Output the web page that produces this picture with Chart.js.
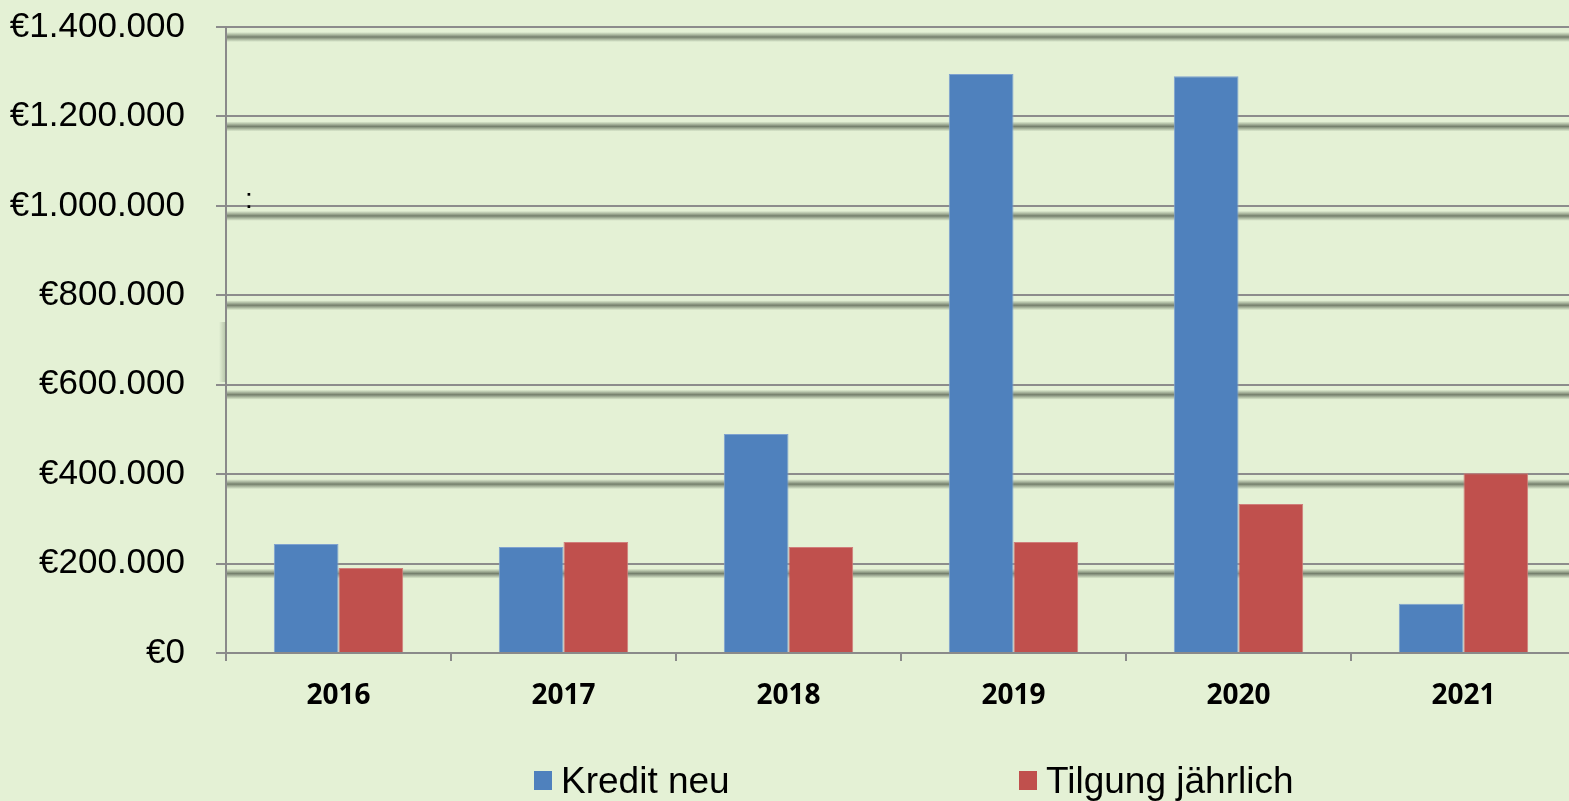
<!DOCTYPE html>
<html>
<head>
<meta charset="utf-8">
<script src="https://cdn.jsdelivr.net/npm/chart.js@4.4.0/dist/chart.umd.min.js"></script>
<style>
  html, body { margin:0; padding:0; background:#E4F1D5; overflow:hidden; }
  #wrap { position:absolute; left:0; top:0; width:1580px; height:801px; }
</style>
</head>
<body>
<div id="wrap"><canvas id="c"></canvas></div>
<script>
const categories = ['2016', '2017', '2018', '2019', '2020', '2021'];
const kreditNeu = [244000, 237000, 490000, 1295000, 1290000, 110000];
const tilgungJaehrlich = [190000, 248000, 237000, 248000, 333000, 402000];
const seriesNames = ['Kredit neu', 'Tilgung jährlich'];
const yTickValues = [0, 200000, 400000, 600000, 800000, 1000000, 1200000, 1400000];
const yTickLabels = ['€0', '€200.000', '€400.000', '€600.000', '€800.000', '€1.000.000', '€1.200.000', '€1.400.000'];

const BLUE = '#4F81BD', RED = '#C0504D';

const shadowPlugin = {
  id: 'gridShadow',
  beforeDatasetsDraw(chart) {
    const ctx = chart.ctx, y = chart.scales.y, area = chart.chartArea;
    ctx.save();
    yTickValues.forEach(v => {
      const py = y.getPixelForValue(v);
      if (v === 0) return;
      const top = py + 5, h = 10;
      const g = ctx.createLinearGradient(0, top, 0, top + h);
      g.addColorStop(0, 'rgba(120,135,112,0)');
      g.addColorStop(0.5, 'rgba(110,120,102,0.95)');
      g.addColorStop(1, 'rgba(120,135,112,0)');
      ctx.fillStyle = g;
      ctx.fillRect(area.left + 1, top, chart.width - area.left, h);
    });
    const gx = ctx.createLinearGradient(area.left - 7, 0, area.left, 0);
    gx.addColorStop(0, 'rgba(120,135,112,0)');
    gx.addColorStop(1, 'rgba(120,135,112,0.45)');
    ctx.fillStyle = gx;
    ctx.fillRect(area.left - 7, 322, 7, 60);
    ctx.fillStyle = '#000';
    ctx.font = '28px "Liberation Sans", Arial, sans-serif';
    ctx.textAlign = 'left';
    ctx.textBaseline = 'alphabetic';
    ctx.fillText(':', 245, 208);
    ctx.restore();
  }
};

const legendPlugin = {
  id: 'customLegend',
  afterDraw(chart) {
    const ctx = chart.ctx;
    const items = [
      { x: 534, color: BLUE, text: seriesNames[0] },
      { x: 1019, color: RED, text: seriesNames[1] }
    ];
    ctx.save();
    ctx.font = '37px "Liberation Sans", Arial, sans-serif';
    ctx.textBaseline = 'alphabetic';
    ctx.textAlign = 'left';
    items.forEach(it => {
      ctx.fillStyle = it.color;
      ctx.fillRect(it.x, 771, 18, 19);
      ctx.fillStyle = '#000';
      ctx.fillText(it.text, it.x + 27, 793);
    });
    ctx.restore();
  }
};

new Chart(document.getElementById('c'), {
  type: 'bar',
  data: {
    labels: categories,
    datasets: [
      { label: seriesNames[0], data: kreditNeu, backgroundColor: BLUE, borderColor: '#7FA2CF', borderWidth: 1,
        categoryPercentage: 0.575, barPercentage: 1.0 },
      { label: seriesNames[1], data: tilgungJaehrlich, backgroundColor: RED, borderColor: '#D07E7B', borderWidth: 1,
        categoryPercentage: 0.575, barPercentage: 1.0 }
    ]
  },
  options: {
    responsive: true,
    maintainAspectRatio: false,
    animation: false,
    layout: { padding: { left: 0, right: 4, top: 27, bottom: 0 } },
    plugins: { legend: { display: false }, tooltip: { enabled: false } },
    scales: {
      x: {
        offset: true,
        afterFit(s) { s.height = 148; s.paddingLeft = 0; s.paddingRight = 0; },
        grid: { display: true, drawOnChartArea: false, tickLength: 8, color: '#8a8a8a', lineWidth: 2, offset: true },
        border: { display: true, color: '#8a8a8a', width: 2 },
        ticks: { color: '#000', padding: 18, font: { family: '"Open Sans", Lato, sans-serif', size: 28, weight: 'bold' } }
      },
      y: {
        min: 0, max: 1400000,
        afterFit(s) { s.width = 226; s.paddingTop = 0; s.paddingBottom = 0; },
        afterBuildTicks(s) { s.ticks = yTickValues.map(v => ({ value: v })); },
        grid: { color: '#8c8c8c', lineWidth: 2, tickLength: 10 },
        border: { display: true, color: '#8a8a8a', width: 2 },
        ticks: {
          color: '#000', padding: 31,
          font: { family: '"Liberation Sans", Arial, sans-serif', size: 35 },
          callback: (v) => { const i = yTickValues.indexOf(v); return i >= 0 ? yTickLabels[i] : ''; }
        }
      }
    }
  },
  plugins: [shadowPlugin, legendPlugin]
});
</script>
</body>
</html>
